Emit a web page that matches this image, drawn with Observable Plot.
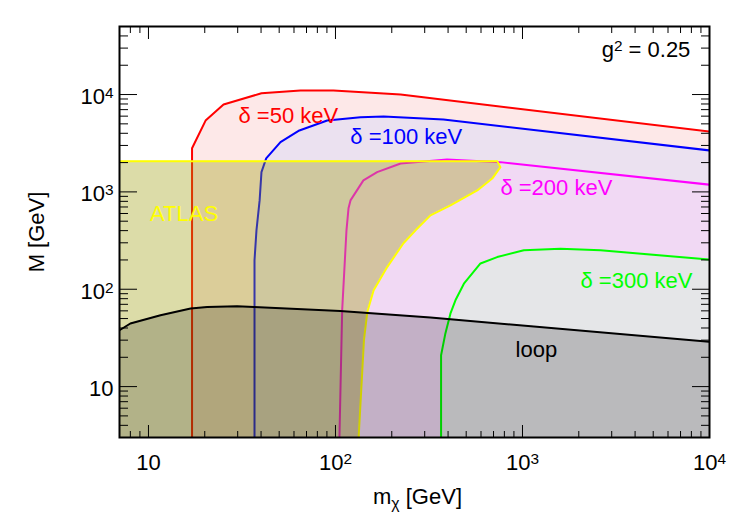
<!DOCTYPE html>
<html>
<head>
<meta charset="utf-8">
<script src="https://cdn.jsdelivr.net/npm/d3@7"></script>
<script src="https://cdn.jsdelivr.net/npm/@observablehq/plot@0.6"></script>
<style>
  body { margin: 0; background: #ffffff; }
  #chart svg { display: block; }
</style>
</head>
<body>
<div id="chart"></div>
<script>
// ---------- axes ----------
const xDomain = [7, 10000];
const yDomain = [3, 50000];
const xMajorTicks = [10, 100, 1000, 10000];
const xMinorTicks = [8, 9, 20, 30, 40, 50, 60, 70, 80, 90, 200, 300, 400, 500, 600, 700, 800, 900,
                     2000, 3000, 4000, 5000, 6000, 7000, 8000, 9000];
const yMajorTicks = [10, 100, 1000, 10000];
const yMinorTicks = [4, 5, 6, 7, 8, 9, 20, 30, 40, 50, 60, 70, 80, 90, 200, 300, 400, 500, 600, 700, 800, 900,
                     2000, 3000, 4000, 5000, 6000, 7000, 8000, 9000, 20000, 30000, 40000];
const tickLabels = ["10", "10^2", "10^3", "10^4"];
const xTitle = "m_χ [GeV]";
const yTitle = "M [GeV]";

// ---------- curves (m_chi [GeV], M [GeV]) ----------
const red50X   = [17.1, 17.1, 20.2, 25.2, 40.2, 65, 97.5, 223, 10000];
const red50Y   = [3, 2810, 5400, 7900, 10300, 11000, 11000, 10000, 4170];

const blue100X = [36.9, 36.9, 37.8, 39.3, 40.2, 42.6, 50.8, 64.1, 90.3, 136, 181, 378, 10000];
const blue100Y = [3, 198, 403, 818, 1596, 2208, 3243, 4276, 5410, 5846, 5940, 5546, 2666];

const mag200X  = [105, 108.6, 114.5, 117.4, 120.3, 141, 167, 223, 395, 762, 10000];
const mag200Y  = [3, 61, 403, 678, 818, 1313, 1596, 1959, 2154, 2022, 1186];

const green300X = [367, 367, 387, 412, 438, 486, 596, 732, 1016, 1597, 2612, 10000];
const green300Y = [3, 21, 35.2, 56.4, 77, 114, 184, 214, 251, 261, 251, 202];

const atlasY = [3, 30, 58.5, 97.7, 169, 297, 403, 574, 728, 1035, 1370, 1795, 2070];
const atlasX = [133, 142, 148, 160, 189, 231, 268, 322, 412, 573, 689, 762, 733];

const loopX = [7, 8, 11.6, 16.8, 20.6, 29.8, 36.6, 106, 322, 10000];
const loopY = [37.9, 44.5, 54.1, 63.4, 65.8, 66.9, 65.8, 59.8, 51.3, 28.8];

// ---------- annotations ----------
const curveLabels = ["δ =50 keV", "δ =100 keV", "δ =200 keV", "δ =300 keV"];
const curveLabelX = [30.3, 120, 762, 2042];
const curveLabelY = [5045, 3070, 920, 102];
const atlasLabel = "ATLAS";
const atlasLabelAt = [10.2, 501];
const loopLabel = "loop";
const loopLabelAt = [918, 20.3];
const couplingLabel = "g^2 = 0.25";
const couplingLabelAt = [7900, 24500];

// ---------- build ----------
const rows = (xs, ys) => xs.map((x, i) => ({x, y: ys[i]}));
const red = rows(red50X, red50Y);
const blue = rows(blue100X, blue100Y);
const mag = rows(mag200X, mag200Y);
const green = rows(green300X, green300Y);
const atlas = rows(atlasX, atlasY);
const atlasOutline = [{x: xDomain[0], y: atlasY[atlasY.length - 1]}, ...atlas.slice().reverse()];
const loop = rows(loopX, loopY);

const FS = 22;
const fmt = d => tickLabels[xMajorTicks.indexOf(d)];

function region(data, fill, stroke) {
  return [
    Plot.areaY(data, {x: "x", y1: yDomain[0], y2: "y", fill, clip: true}),
    Plot.line(data, {x: "x", y: "y", stroke, strokeWidth: 2, clip: true})
  ];
}

const chart = Plot.plot({
  width: 747,
  height: 521,
  marginLeft: 119,
  marginRight: 38,
  marginTop: 26,
  marginBottom: 84,
  style: {fontFamily: "'Liberation Sans', Arial, Helvetica, sans-serif", fontSize: FS + "px", background: "#ffffff", color: "#000"},
  x: {type: "log", domain: xDomain},
  y: {type: "log", domain: yDomain},
  marks: [
    ...region(red, "#fde8e8", "#ff0000"),
    ...region(blue, "#ebe1f0", "#0000ff"),
    ...region(mag, "#f1d9f4", "#ff00ff"),
    ...region(green, "#e5e6e8", "#00ff00"),
    Plot.areaX(atlas, {y: "y", x1: xDomain[0], x2: "x", fill: "rgb(155,155,6)", fillOpacity: 0.35, clip: true}),
    Plot.line(atlasOutline, {x: "x", y: "y", stroke: "#ffff00", strokeWidth: 2, clip: true}),
    Plot.areaY(loop, {x: "x", y1: yDomain[0], y2: "y", fill: "#000", fillOpacity: 0.19, clip: true}),
    Plot.line(loop, {x: "x", y: "y", stroke: "#000", strokeWidth: 2, clip: true}),

    // text annotations
    Plot.text([curveLabels[0]], {x: curveLabelX[0], y: curveLabelY[0], text: d => d, fill: "#ff0000", textAnchor: "start", lineAnchor: "bottom", fontSize: FS}),
    Plot.text([curveLabels[1]], {x: curveLabelX[1], y: curveLabelY[1], text: d => d, fill: "#0000ff", textAnchor: "start", lineAnchor: "bottom", fontSize: FS}),
    Plot.text([curveLabels[2]], {x: curveLabelX[2], y: curveLabelY[2], text: d => d, fill: "#ff00ff", textAnchor: "start", lineAnchor: "bottom", fontSize: FS}),
    Plot.text([curveLabels[3]], {x: curveLabelX[3], y: curveLabelY[3], text: d => d, fill: "#00ff00", textAnchor: "start", lineAnchor: "bottom", fontSize: FS}),
    Plot.text([atlasLabel], {x: atlasLabelAt[0], y: atlasLabelAt[1], text: d => d, fill: "#ffff00", textAnchor: "start", lineAnchor: "bottom", fontSize: FS}),
    Plot.text([loopLabel], {x: loopLabelAt[0], y: loopLabelAt[1], text: d => d, fill: "#000", textAnchor: "start", lineAnchor: "bottom", fontSize: FS}),
    Plot.text([couplingLabel], {x: couplingLabelAt[0], y: couplingLabelAt[1], text: d => d, fill: "#000", textAnchor: "end", lineAnchor: "bottom", fontSize: FS}),

    // frame
    Plot.frame({stroke: "#000", strokeWidth: 2}),

    // inward ticks, all four sides
    Plot.axisX(xMajorTicks, {anchor: "bottom", tickSize: -12, fill: "none", label: null, stroke: "#000"}),
    Plot.axisX(xMinorTicks, {anchor: "bottom", tickSize: -6, fill: "none", label: null, stroke: "#000"}),
    Plot.axisX(xMajorTicks, {anchor: "top", tickSize: -12, fill: "none", label: null, stroke: "#000"}),
    Plot.axisX(xMinorTicks, {anchor: "top", tickSize: -6, fill: "none", label: null, stroke: "#000"}),
    Plot.axisY(yMajorTicks, {anchor: "left", tickSize: -18, fill: "none", label: null, stroke: "#000"}),
    Plot.axisY(yMinorTicks, {anchor: "left", tickSize: -9, fill: "none", label: null, stroke: "#000"}),
    Plot.axisY(yMajorTicks, {anchor: "right", tickSize: -18, fill: "none", label: null, stroke: "#000"}),
    Plot.axisY(yMinorTicks, {anchor: "right", tickSize: -9, fill: "none", label: null, stroke: "#000"}),

    // tick labels
    Plot.axisX(xMajorTicks, {anchor: "bottom", tickSize: 0, tickPadding: 17, tickFormat: fmt, fontSize: FS, label: null, fill: "#000"}),
    Plot.axisY(yMajorTicks, {anchor: "left", tickSize: 0, tickPadding: 6, tickFormat: fmt, fontSize: FS, label: null, fill: "#000", dy: 2.5}),

    // axis titles
    Plot.text([xTitle], {frameAnchor: "bottom", text: d => d, dy: 66, dx: 3, textAnchor: "middle", lineAnchor: "bottom", fontSize: FS, fill: "#000"}),
    Plot.text([yTitle], {frameAnchor: "left", text: d => d, rotate: -90, dx: -76, textAnchor: "middle", lineAnchor: "bottom", fontSize: FS, fill: "#000"})
  ]
});

// superscripts / subscripts as real tspans
const NS = "http://www.w3.org/2000/svg";
d3.select(chart).selectAll("text").each(function () {
  const s = this.textContent;
  let m = s.match(/^(.*?)\^(\d)(.*)$/);
  let shift = -6, size = "70%";
  if (!m) { m = s.match(/^(.*?)_(\S)(.*)$/); shift = 5; size = "72%"; }
  if (!m) return;
  this.textContent = "";
  const a = document.createElementNS(NS, "tspan"); a.textContent = m[1]; this.appendChild(a);
  const b = document.createElementNS(NS, "tspan"); b.textContent = m[2];
  b.setAttribute("font-size", size); b.setAttribute("dy", shift); this.appendChild(b);
  if (m[3]) {
    const c = document.createElementNS(NS, "tspan"); c.textContent = m[3];
    c.setAttribute("dy", -shift); this.appendChild(c);
  }
});

document.getElementById("chart").appendChild(chart);
</script>
</body>
</html>
